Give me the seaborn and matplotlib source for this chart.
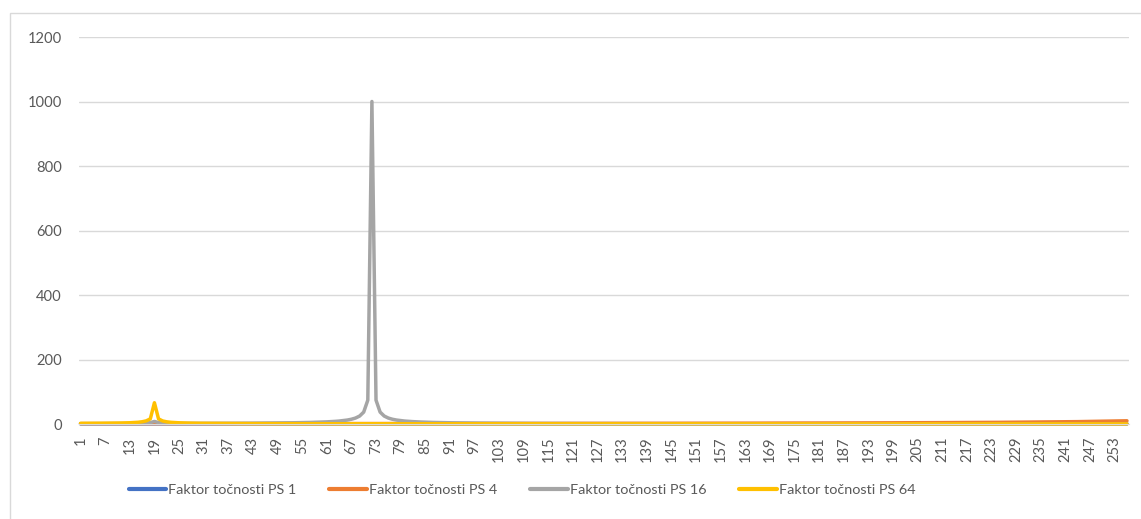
import matplotlib
matplotlib.use('Agg')
import matplotlib.pyplot as plt
import seaborn as sns
import pandas as pd
import numpy as np
from matplotlib.patches import Rectangle

# hodnoty, body 1..256
body = list(range(1, 257))

ps1 = [
    0.7, 0.7, 0.7, 0.7, 0.7, 0.7, 0.7, 0.7, 0.7, 0.7, 0.7, 0.7, 0.7, 0.7, 0.7, 0.7,
    0.7, 0.7, 0.8, 0.7, 0.7, 0.7, 0.7, 0.7, 0.7, 0.7, 0.7, 0.7, 0.7, 0.7, 0.7, 0.7,
    0.6, 0.6, 0.6, 0.6, 0.6, 0.6, 0.6, 0.6, 0.6, 0.6, 0.6, 0.6, 0.6, 0.6, 0.6, 0.6,
    0.6, 0.6, 0.6, 0.6, 0.6, 0.6, 0.6, 0.6, 0.6, 0.6, 0.6, 0.6, 0.6, 0.6, 0.6, 0.6,
    0.6, 0.6, 0.6, 0.6, 0.6, 0.6, 0.6, 0.6, 0.6, 0.6, 0.6, 0.6, 0.6, 0.6, 0.6, 0.6,
    0.6, 0.6, 0.6, 0.6, 0.6, 0.6, 0.6, 0.6, 0.6, 0.6, 0.6, 0.6, 0.6, 0.6, 0.6, 0.6,
    0.6, 0.6, 0.6, 0.6, 0.6, 0.6, 0.6, 0.6, 0.6, 0.6, 0.6, 0.6, 0.6, 0.6, 0.6, 0.6,
    0.6, 0.6, 0.6, 0.6, 0.6, 0.6, 0.6, 0.6, 0.5, 0.5, 0.5, 0.5, 0.5, 0.5, 0.5, 0.5,
    0.5, 0.5, 0.5, 0.5, 0.5, 0.5, 0.5, 0.5, 0.5, 0.5, 0.5, 0.5, 0.5, 0.5, 0.5, 0.5,
    0.5, 0.5, 0.5, 0.5, 0.5, 0.5, 0.5, 0.5, 0.5, 0.5, 0.5, 0.5, 0.5, 0.5, 0.5, 0.5,
    0.5, 0.5, 0.5, 0.5, 0.5, 0.5, 0.5, 0.5, 0.5, 0.5, 0.5, 0.5, 0.5, 0.5, 0.5, 0.5,
    0.5, 0.5, 0.5, 0.5, 0.5, 0.5, 0.5, 0.5, 0.5, 0.5, 0.5, 0.5, 0.5, 0.5, 0.5, 0.5,
    0.5, 0.5, 0.5, 0.5, 0.5, 0.5, 0.5, 0.5, 0.5, 0.5, 0.5, 0.5, 0.5, 0.5, 0.5, 0.5,
    0.5, 0.5, 0.5, 0.5, 0.5, 0.5, 0.5, 0.5, 0.5, 0.5, 0.5, 0.5, 0.5, 0.5, 0.5, 0.5,
    0.5, 0.5, 0.5, 0.5, 0.5, 0.5, 0.5, 0.5, 0.5, 0.5, 0.5, 0.5, 0.5, 0.5, 0.5, 0.5,
    0.5, 0.5, 0.5, 0.5, 0.5, 0.5, 0.5, 0.5, 0.5, 0.5, 0.5, 0.5, 0.5, 0.5, 0.5, 0.5,
]

ps4 = [
    1.2, 1.2, 1.2, 1.2, 1.2, 1.2, 1.2, 1.2, 1.2, 1.2, 1.2, 1.2, 1.2, 1.2, 1.2, 1.2,
    1.2, 1.2, 1.2, 1.2, 1.2, 1.2, 1.2, 1.2, 1.3, 1.3, 1.3, 1.3, 1.3, 1.3, 1.3, 1.3,
    1.3, 1.3, 1.3, 1.3, 1.3, 1.3, 1.3, 1.3, 1.3, 1.3, 1.3, 1.3, 1.3, 1.3, 1.3, 1.3,
    1.4, 1.4, 1.4, 1.4, 1.4, 1.4, 1.4, 1.4, 1.4, 1.4, 1.5, 1.5, 1.5, 1.5, 1.5, 1.5,
    1.5, 1.5, 1.5, 1.5, 1.5, 1.5, 1.5, 1.5, 1.5, 1.5, 1.6, 1.6, 1.6, 1.6, 1.6, 1.6,
    1.6, 1.6, 1.6, 1.6, 1.6, 1.6, 1.6, 1.6, 1.7, 1.7, 1.7, 1.7, 1.7, 1.7, 1.7, 1.7,
    1.8, 1.8, 1.8, 1.8, 1.8, 1.8, 1.8, 1.8, 1.9, 1.9, 1.9, 1.9, 1.9, 1.9, 1.9, 1.9,
    1.9, 1.9, 1.9, 1.9, 2.0, 2.0, 2.0, 2.0, 2.0, 2.0, 2.0, 2.0, 2.1, 2.1, 2.1, 2.1,
    2.1, 2.1, 2.1, 2.1, 2.1, 2.1, 2.2, 2.2, 2.2, 2.2, 2.2, 2.2, 2.3, 2.3, 2.3, 2.3,
    2.3, 2.4, 2.4, 2.4, 2.4, 2.4, 2.5, 2.5, 2.5, 2.5, 2.5, 2.6, 2.6, 2.6, 2.6, 2.6,
    2.6, 2.6, 2.7, 2.7, 2.7, 2.7, 2.8, 2.8, 2.8, 2.8, 2.9, 2.9, 2.9, 2.9, 3.0, 3.0,
    3.0, 3.0, 3.1, 3.1, 3.1, 3.2, 3.2, 3.2, 3.3, 3.3, 3.3, 3.4, 3.4, 3.4, 3.5, 3.5,
    3.5, 3.6, 3.6, 3.6, 3.7, 3.7, 3.8, 3.8, 3.9, 3.9, 4.0, 4.0, 4.0, 4.1, 4.1, 4.2,
    4.2, 4.3, 4.3, 4.4, 4.4, 4.5, 4.5, 4.6, 4.7, 4.7, 4.8, 4.9, 4.9, 5.0, 5.1, 5.2,
    5.2, 5.3, 5.4, 5.5, 5.6, 5.7, 5.8, 5.9, 6.0, 6.1, 6.2, 6.3, 6.4, 6.5, 6.7, 6.8,
    6.9, 7.1, 7.2, 7.4, 7.6, 7.7, 7.9, 8.1, 8.3, 8.5, 8.7, 8.9, 9.2, 9.4, 9.7, 10.0,
]

ps16 = [
    1.0, 1.1, 1.1, 1.1, 1.1, 1.1, 1.1, 1.1, 1.2, 1.2, 1.2, 1.2, 1.2, 1.3, 1.3, 1.3,
    2.5, 4.5, 8.0, 4.5, 2.5, 1.5, 1.5, 1.5, 1.6, 1.6, 1.6, 1.7, 1.7, 1.8, 1.8, 1.9,
    1.9, 1.9, 2.0, 2.1, 2.1, 2.2, 2.2, 2.3, 2.4, 2.5, 2.6, 2.7, 2.8, 2.9, 3.0, 3.1,
    3.2, 3.4, 3.5, 3.7, 3.9, 4.1, 4.4, 4.6, 4.9, 5.3, 5.7, 6.2, 6.7, 7.4, 8.2, 9.2,
    10.6, 12.3, 14.8, 18.5, 24.7, 37.0, 74.0, 1000.0, 74.0, 37.0, 24.7, 18.5, 14.8, 12.3, 10.6, 9.2,
    8.2, 7.4, 6.7, 6.2, 5.7, 5.3, 4.9, 4.6, 4.4, 4.1, 3.9, 3.7, 3.5, 3.4, 3.2, 3.1,
    3.0, 2.8, 2.7, 2.6, 2.6, 2.5, 2.4, 2.3, 2.2, 2.2, 2.1, 2.1, 2.0, 1.9, 1.9, 1.9,
    1.8, 1.8, 1.7, 1.7, 1.7, 1.6, 1.6, 1.5, 1.5, 1.5, 1.5, 1.4, 1.4, 1.4, 1.4, 1.3,
    1.3, 1.3, 1.3, 1.2, 1.2, 1.2, 1.2, 1.2, 1.1, 1.1, 1.1, 1.1, 1.1, 1.0, 1.0, 1.0,
    1.0, 1.0, 1.0, 1.0, 0.9, 0.9, 0.9, 0.9, 0.9, 0.9, 0.9, 0.9, 0.9, 0.8, 0.8, 0.8,
    0.8, 0.8, 0.8, 0.8, 0.8, 0.8, 0.8, 0.8, 0.7, 0.7, 0.7, 0.7, 0.7, 0.7, 0.7, 0.7,
    0.7, 0.7, 0.7, 0.7, 0.7, 0.7, 0.7, 0.7, 0.6, 0.6, 0.6, 0.6, 0.6, 0.6, 0.6, 0.6,
    0.6, 0.6, 0.6, 0.6, 0.6, 0.6, 0.6, 0.6, 0.6, 0.6, 0.6, 0.6, 0.6, 0.6, 0.6, 0.6,
    0.5, 0.5, 0.5, 0.5, 0.5, 0.5, 0.5, 0.5, 0.5, 0.5, 0.5, 0.5, 0.5, 0.5, 0.5, 0.5,
    0.5, 0.5, 0.5, 0.5, 0.5, 0.5, 0.5, 0.5, 0.4, 0.4, 0.4, 0.4, 0.4, 0.4, 0.4, 0.4,
    0.4, 0.4, 0.4, 0.4, 0.4, 0.4, 0.4, 0.4, 0.4, 0.4, 0.4, 0.4, 0.4, 0.4, 0.4, 0.4,
]

ps64 = [
    2.2, 2.2, 2.3, 2.3, 2.4, 2.5, 2.6, 2.7, 2.8, 3.0, 3.2, 3.5, 3.9, 4.5, 5.4, 7.0,
    9.8, 16.0, 66.0, 16.0, 9.5, 6.8, 5.3, 4.4, 3.8, 3.3, 3.0, 2.7, 2.5, 2.3, 2.2, 2.0,
    1.9, 1.8, 1.7, 1.7, 1.6, 1.5, 1.5, 1.4, 1.4, 1.3, 1.3, 1.3, 1.2, 1.2, 1.2, 1.1,
    1.1, 1.1, 1.1, 1.0, 1.0, 1.0, 1.0, 1.0, 1.0, 1.0, 1.0, 0.9, 0.9, 0.9, 0.9, 0.9,
    0.9, 0.9, 0.9, 0.9, 0.9, 0.9, 0.9, 0.9, 0.8, 0.8, 0.8, 0.8, 0.8, 0.8, 0.8, 0.8,
    0.8, 0.8, 0.8, 0.8, 0.8, 0.8, 0.8, 0.8, 0.8, 0.8, 0.8, 0.8, 0.8, 0.8, 0.8, 0.8,
    0.7, 0.7, 0.7, 0.7, 0.7, 0.7, 0.7, 0.7, 0.7, 0.7, 0.7, 0.7, 0.7, 0.7, 0.7, 0.7,
    0.7, 0.7, 0.7, 0.7, 0.7, 0.7, 0.7, 0.7, 0.7, 0.7, 0.7, 0.7, 0.7, 0.7, 0.7, 0.7,
    0.6, 0.6, 0.6, 0.6, 0.6, 0.6, 0.6, 0.6, 0.6, 0.6, 0.6, 0.6, 0.6, 0.6, 0.6, 0.6,
    0.6, 0.6, 0.6, 0.6, 0.6, 0.6, 0.6, 0.6, 0.6, 0.6, 0.6, 0.6, 0.6, 0.6, 0.6, 0.6,
    0.6, 0.6, 0.6, 0.6, 0.6, 0.6, 0.6, 0.6, 0.6, 0.6, 0.6, 0.6, 0.6, 0.6, 0.6, 0.6,
    0.5, 0.5, 0.5, 0.5, 0.5, 0.5, 0.5, 0.5, 0.5, 0.5, 0.5, 0.5, 0.5, 0.5, 0.5, 0.5,
    0.5, 0.5, 0.5, 0.5, 0.5, 0.5, 0.5, 0.5, 0.5, 0.5, 0.5, 0.5, 0.5, 0.5, 0.5, 0.5,
    0.5, 0.5, 0.5, 0.5, 0.5, 0.5, 0.5, 0.5, 0.5, 0.5, 0.5, 0.5, 0.5, 0.5, 0.5, 0.5,
    0.5, 0.5, 0.5, 0.5, 0.5, 0.5, 0.5, 0.5, 0.5, 0.5, 0.5, 0.5, 0.5, 0.5, 0.5, 0.5,
    0.5, 0.5, 0.5, 0.5, 0.5, 0.5, 0.5, 0.5, 0.5, 0.5, 0.5, 0.5, 0.5, 0.5, 0.5, 0.5,
]

nazvy = ["Faktor točnosti PS 1", "Faktor točnosti PS 4",
         "Faktor točnosti PS 16", "Faktor točnosti PS 64"]
barvy = ["#4472C4", "#ED7D31", "#A5A5A5", "#FFC000"]

y_ticks = [0, 200, 400, 600, 800, 1000, 1200]
x_ticks = list(range(1, 257, 6))

df = pd.concat([
    pd.DataFrame({"bod": body, "hodnota": vals, "serie": nazev})
    for vals, nazev in zip([ps1, ps4, ps16, ps64], nazvy)
], ignore_index=True)

sns.set_style("white")
plt.rcParams['font.family'] = ['Lato', 'DejaVu Sans']

fig = plt.figure(figsize=(11.41, 5.19), dpi=100)
ax = fig.add_axes([0.0688, 0.1830, 0.9207, 0.7457])

sns.lineplot(
    data=df, x="bod", y="hodnota", hue="serie",
    hue_order=nazvy, palette=barvy,
    linewidth=2.5, errorbar=None, sort=False, ax=ax,
)
for ln in ax.lines:
    ln.set_clip_on(False)
    ln.set_solid_joinstyle("round")
    ln.set_solid_capstyle("round")

ax.set_xlim(0.5, 256.5)
ax.set_ylim(0, 1200)
ax.set_yticks(y_ticks)
ax.set_xticks(x_ticks)
ax.set_xticklabels([str(t) for t in x_ticks], rotation=90)
ax.set_xlabel("")
ax.set_ylabel("")

ax.yaxis.grid(True, color="#D9D9D9", lw=1)
ax.set_axisbelow(True)
for s in ["left", "right", "top"]:
    ax.spines[s].set_visible(False)
ax.spines["bottom"].set_color("#D9D9D9")
ax.tick_params(axis="both", length=0, colors="#595959", labelsize=10.6)
ax.tick_params(axis="y", pad=12)
ax.tick_params(axis="x", pad=9)

handles, labels = ax.get_legend_handles_labels()
ax.legend(
    handles, labels, loc="center", ncol=4, frameon=False,
    bbox_to_anchor=(522 / 1141, 1 - 490 / 519), bbox_transform=fig.transFigure,
    fontsize=10.4, handlelength=2.6, handletextpad=0.12, columnspacing=2.3,
    labelcolor="#595959",
)
for h in ax.get_legend().get_lines():
    h.set_linewidth(3)

# rámeček grafu
fig.patches.append(Rectangle((10 / 1141, -0.05), 1.1, 0.975 + 0.05,
                             transform=fig.transFigure, fill=False,
                             edgecolor="#D9D9D9", lw=1))

plt.savefig("out.png", dpi=100)
plt.close()
